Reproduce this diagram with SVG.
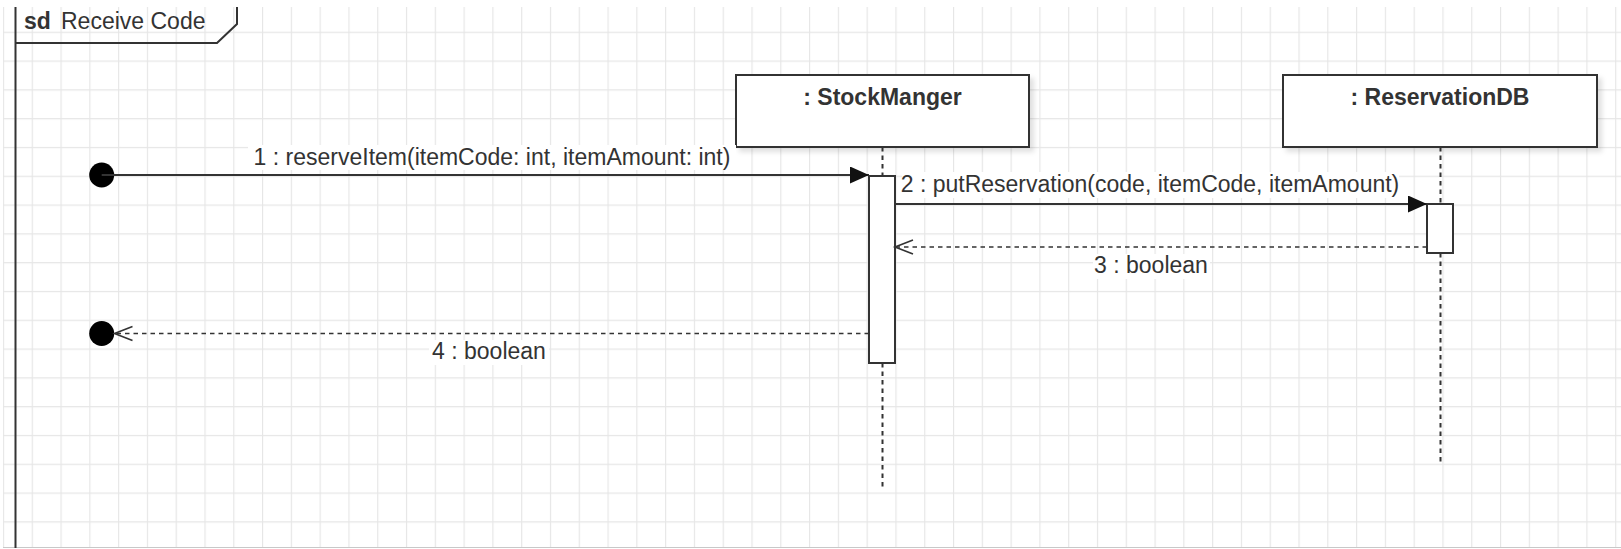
<svg xmlns="http://www.w3.org/2000/svg" width="1621" height="549" viewBox="0 0 1621 549">
  <style>
    .txt { font-family: "Liberation Sans", Arial, sans-serif; font-size: 23px; fill: #333; }
    .bold { font-weight: bold; }
    .box { fill: #fff; stroke: #333; stroke-width: 2; }
    .bar { fill: #fff; stroke: #333; stroke-width: 2; }
    .life { stroke: #333; stroke-width: 2; stroke-dasharray: 4.5 4; fill: none; }
    .msg { stroke: #333; stroke-width: 2; fill: none; }
    .ret { stroke: #333; stroke-width: 1.6; stroke-dasharray: 4.5 4; fill: none; }
    .lblbg { fill: #fff; }
  </style>
  <defs>
    <pattern id="grid" patternUnits="userSpaceOnUse" x="2.91" y="2.9" width="28.79" height="28.8">
      <path d="M0 0.5 H28.79 M0.5 0 V28.8" stroke="#e6e6e6" stroke-width="1.3" fill="none"/>
    </pattern>
    <marker id="block" markerUnits="userSpaceOnUse" markerWidth="20" markerHeight="18" refX="19" refY="8.5" orient="auto">
      <path d="M0 0 L19 8.5 L0 17 Z" fill="#111" stroke="none"/>
    </marker>
    <marker id="open" markerUnits="userSpaceOnUse" markerWidth="22" markerHeight="20" refX="19" refY="9" orient="auto">
      <path d="M1 2 L19 9 L1 16" fill="none" stroke="#333" stroke-width="1.6" stroke-dasharray="none"/>
    </marker>
    <filter id="shadow" x="-10%" y="-20%" width="130%" height="160%">
      <feDropShadow dx="4" dy="4" stdDeviation="2.5" flood-color="#000" flood-opacity="0.12"/>
    </filter>
  </defs>

  <rect x="0" y="0" width="1621" height="549" fill="#fff"/>
  <rect x="3" y="7" width="1618" height="541" fill="url(#grid)"/>
  <line x1="3" y1="547.5" x2="1621" y2="547.5" stroke="#c8c8c8" stroke-width="1"/>

  <g id="frame">
    <path d="M15.5 7 V548" stroke="#333" stroke-width="2" fill="none"/>
    <path d="M15.5 43 H217 L237 24 V7" stroke="#333" stroke-width="2" fill="none"/>
    <text x="24" y="29" class="txt bold">sd</text>
    <text x="61" y="29" class="txt">Receive Code</text>
  </g>

  <g id="lifeline-stockmanger">
    <rect x="736" y="75" width="293" height="72" class="box" filter="url(#shadow)"/>
    <text x="882.5" y="105" class="txt bold" text-anchor="middle">: StockManger</text>
    <line x1="882.5" y1="147" x2="882.5" y2="176" class="life"/>
    <line x1="882.5" y1="363" x2="882.5" y2="490" class="life"/>
    <rect x="869" y="176" width="26" height="187" class="bar"/>
  </g>

  <g id="lifeline-reservationdb">
    <rect x="1283" y="75" width="314" height="72" class="box" filter="url(#shadow)"/>
    <text x="1440" y="105" class="txt bold" text-anchor="middle">: ReservationDB</text>
    <line x1="1440.5" y1="147" x2="1440.5" y2="204" class="life"/>
    <line x1="1440.5" y1="253" x2="1440.5" y2="464" class="life"/>
    <rect x="1427" y="204" width="26" height="49" class="bar"/>
  </g>

  <g id="found-start">
    <circle cx="101.7" cy="175" r="12.5" fill="#000"/>
  </g>
  <g id="found-end">
    <circle cx="101.7" cy="333.5" r="12.5" fill="#000"/>
  </g>

  <g id="connectors">
    <line x1="101.7" y1="175" x2="869" y2="175" class="msg" marker-end="url(#block)"/>
    <rect x="248" y="145" width="488" height="25" class="lblbg"/>
    <text x="492" y="165" class="txt" text-anchor="middle">1 : reserveItem(itemCode: int, itemAmount: int)</text>

    <line x1="895" y1="204" x2="1427" y2="204" class="msg" marker-end="url(#block)"/>
    <rect x="902" y="172" width="497" height="26" class="lblbg"/>
    <text x="1150" y="192" class="txt" text-anchor="middle">2 : putReservation(code, itemCode, itemAmount)</text>

    <line x1="1427" y1="247" x2="895" y2="247" class="ret" marker-end="url(#open)"/>
    <rect x="1093" y="254" width="117" height="25" class="lblbg"/>
    <text x="1151" y="273" class="txt" text-anchor="middle">3 : boolean</text>

    <line x1="869" y1="333.5" x2="114.5" y2="333.5" class="ret" marker-end="url(#open)"/>
    <rect x="429" y="340" width="120" height="25" class="lblbg"/>
    <text x="489" y="359" class="txt" text-anchor="middle">4 : boolean</text>
  </g>
</svg>
